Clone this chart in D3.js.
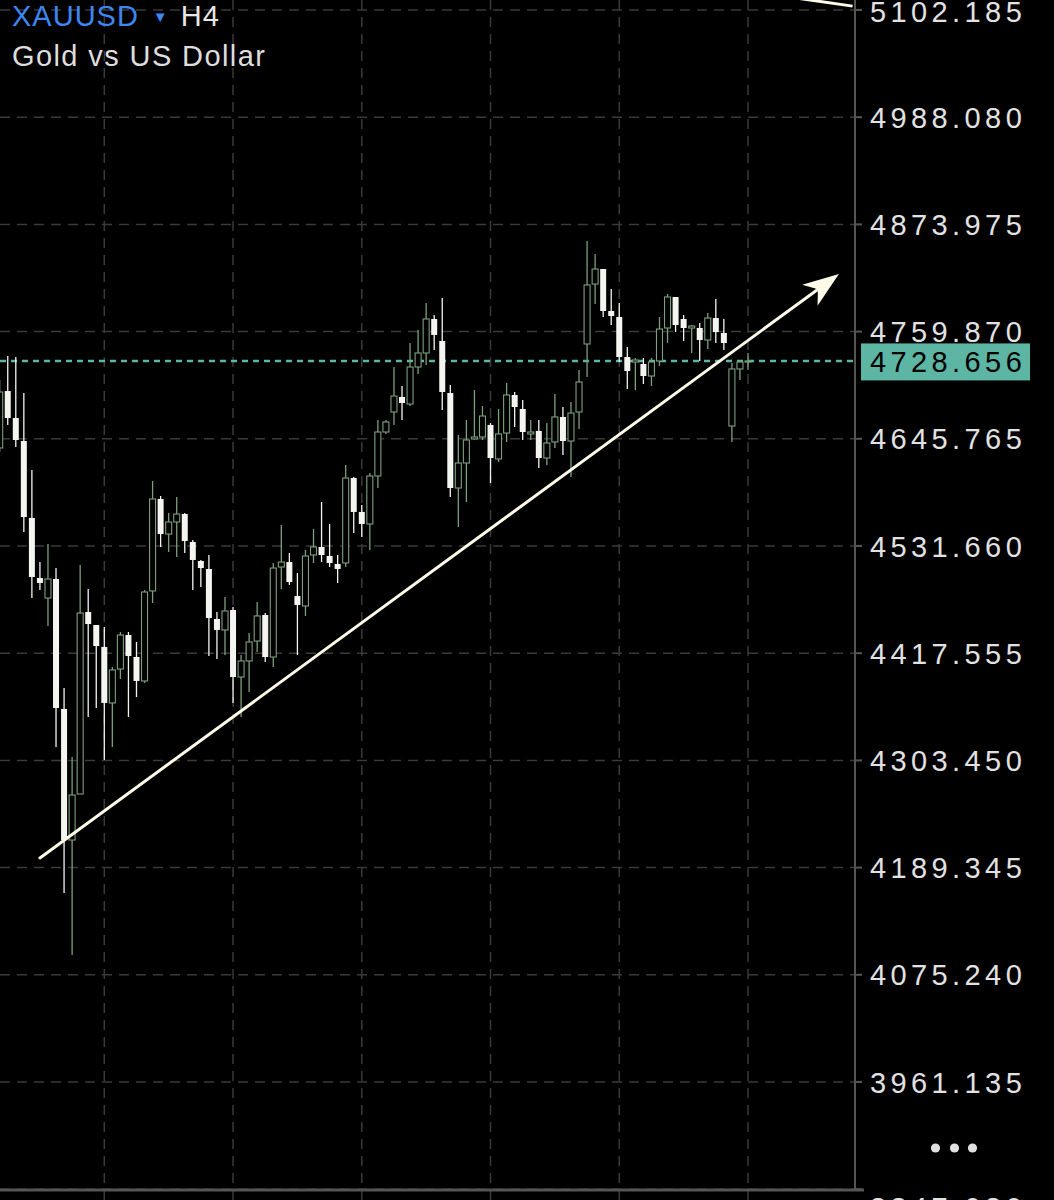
<!DOCTYPE html>
<html lang="en">
<head>
<meta charset="utf-8">
<title>XAUUSD H4</title>
<script src="https://cdn.jsdelivr.net/npm/d3@7"></script>
<style>
  html, body { margin: 0; padding: 0; background: #000; }
  svg { display: block; }
</style>
</head>
<body>
<div id="chart"></div>
<script>

// H4 candles, oldest first (prices)
const opens = [4636.0, 4696.6, 4667.9, 4643.4, 4561.5, 4497.6, 4476.3, 4496.5, 4358.2, 4218.7,
  4267.7, 4461.4, 4447.6, 4424.2, 4364.6, 4400.7, 4436.9, 4413.5, 4388.0, 4483.8,
  4581.7, 4544.4, 4557.2, 4565.7, 4535.9, 4515.7, 4507.2, 4454.0, 4442.3, 4463.5,
  4392.2, 4409.3, 4430.5, 4458.2, 4413.5, 4509.3, 4514.6, 4478.4, 4467.8, 4522.1,
  4530.6, 4521.0, 4512.5, 4513.6, 4604.0, 4567.9, 4555.1, 4606.2, 4653.0, 4674.3,
  4690.3, 4682.8, 4722.2, 4737.1, 4773.3, 4749.9, 4694.5, 4593.4, 4620.0, 4645.6,
  4647.7, 4660.5, 4624.3, 4651.9, 4692.4, 4677.5, 4650.9, 4654.1, 4625.3, 4642.4,
  4669.0, 4643.4, 4674.3, 4746.7, 4810.5, 4826.5, 4781.8, 4775.4, 4732.8, 4727.5,
  4725.4, 4712.6, 4728.6, 4763.7, 4796.7, 4773.3, 4763.7, 4763.7, 4750.9, 4774.3,
  4758.4, 4659.4, 4720.1, 4727.5];

const highs = [4708.4, 4733.9, 4732.8, 4694.5, 4612.6, 4514.6, 4533.8, 4508.2, 4380.5, 4307.1,
  4511.4, 4485.9, 4447.6, 4445.4, 4402.9, 4440.1, 4440.1, 4429.5, 4484.8, 4600.9,
  4584.9, 4566.8, 4583.8, 4566.8, 4538.1, 4516.8, 4522.1, 4461.4, 4477.4, 4466.7,
  4415.6, 4439.1, 4472.1, 4460.3, 4513.6, 4554.0, 4524.2, 4502.9, 4527.4, 4549.8,
  4578.5, 4555.1, 4522.1, 4617.9, 4605.1, 4575.3, 4609.4, 4665.8, 4665.8, 4722.2,
  4702.0, 4747.7, 4761.6, 4790.3, 4777.5, 4795.6, 4703.0, 4649.8, 4665.8, 4697.7,
  4680.7, 4662.6, 4677.5, 4705.2, 4695.6, 4687.1, 4665.8, 4665.8, 4662.6, 4693.5,
  4679.6, 4684.9, 4719.0, 4856.3, 4842.5, 4826.5, 4805.2, 4790.3, 4743.5, 4731.8,
  4731.8, 4731.8, 4775.4, 4799.9, 4796.7, 4777.5, 4766.9, 4769.0, 4779.7, 4794.6,
  4773.3, 4726.5, 4729.6, 4737.1];

const lows = [4631.7, 4660.5, 4637.0, 4546.6, 4476.3, 4484.8, 4446.5, 4317.7, 4162.3, 4096.3,
  4267.7, 4349.7, 4359.2, 4303.9, 4317.7, 4390.1, 4349.7, 4370.9, 4385.8, 4471.0,
  4530.6, 4525.3, 4520.0, 4524.2, 4484.8, 4488.0, 4414.6, 4411.4, 4415.6, 4364.6,
  4349.7, 4376.3, 4418.8, 4408.2, 4402.9, 4485.9, 4490.2, 4415.6, 4457.2, 4513.6,
  4514.6, 4509.3, 4492.3, 4509.3, 4545.5, 4541.2, 4527.4, 4593.4, 4650.9, 4660.5,
  4665.8, 4680.7, 4714.7, 4724.3, 4740.3, 4676.4, 4583.8, 4551.9, 4578.5, 4644.5,
  4644.5, 4598.7, 4621.1, 4642.4, 4658.3, 4644.5, 4644.5, 4614.7, 4617.9, 4636.0,
  4628.5, 4605.1, 4656.2, 4711.5, 4789.3, 4775.4, 4766.9, 4727.5, 4698.8, 4697.7,
  4704.1, 4702.0, 4723.3, 4747.7, 4759.4, 4749.9, 4737.1, 4728.6, 4741.4, 4747.7,
  4740.3, 4642.4, 4708.4, 4719.0];

const closes = [4695.6, 4667.9, 4644.5, 4562.5, 4498.7, 4492.3, 4496.5, 4359.2, 4218.7, 4266.6,
  4460.3, 4448.6, 4425.2, 4364.6, 4399.7, 4436.9, 4414.6, 4388.0, 4482.7, 4581.7,
  4544.4, 4557.2, 4565.7, 4537.0, 4516.8, 4508.2, 4455.0, 4442.3, 4462.5, 4392.2,
  4409.3, 4429.5, 4457.2, 4413.5, 4508.2, 4514.6, 4493.3, 4468.9, 4521.0, 4530.6,
  4522.1, 4513.6, 4507.2, 4604.0, 4567.9, 4555.1, 4606.2, 4653.0, 4663.7, 4691.3,
  4683.9, 4722.2, 4737.1, 4773.3, 4756.3, 4695.6, 4593.4, 4620.0, 4644.5, 4647.7,
  4670.0, 4625.3, 4650.9, 4692.4, 4679.6, 4653.0, 4653.0, 4625.3, 4641.3, 4669.0,
  4643.4, 4673.2, 4706.2, 4809.5, 4826.5, 4781.8, 4776.5, 4732.8, 4717.9, 4729.6,
  4712.6, 4727.5, 4762.6, 4796.7, 4766.9, 4763.7, 4765.8, 4750.9, 4774.3, 4759.4,
  4747.7, 4720.1, 4727.5, 4728.656];

// price axis ticks
const priceTicks = [5102.185, 4988.080, 4873.975, 4759.870, 4645.765, 4531.660,
  4417.555, 4303.450, 4189.345, 4075.240, 3961.135, 3847.030];

// candle index of each vertical (period) separator
const gridIdx = [13, 29, 45, 61, 77, 93];

const lastPrice = 4728.656;

// trend line drawn by the user (candle index, price)
const trendIdx = [5.0, 104.3];
const trendPrice = [4199.6, 4821.2];
// second line leaving the top of the view
const line2Idx = [99.0, 106.0];
const line2Price = [5114.9, 5106.3];

const W = 1054, H = 1200;
const plotRight = 855, plotBottom = 1190;

const x = d3.scaleLinear().domain([0, 93]).range([-0.3, 748]);
const y = d3.scaleLinear().domain([3847.03, 5102.185]).range([1189.2, 10]);

const bullColor = "#7d9f7d";
const bearColor = "#f4f4f0";
const gridColor = "#3a3a3a";
const teal = "#5db5a3";
const font = "'Liberation Sans', Arial, sans-serif";

const svg = d3.select("#chart").append("svg")
  .attr("width", W)
  .attr("height", H)
  .style("background", "#000");

svg.append("defs").append("clipPath").attr("id", "plot")
  .append("rect").attr("x", 0).attr("y", 0).attr("width", plotRight).attr("height", plotBottom);

// horizontal grid
svg.append("g").selectAll("line")
  .data(priceTicks)
  .enter().append("line")
  .attr("x1", 0).attr("x2", plotRight)
  .attr("y1", d => y(d)).attr("y2", d => y(d))
  .attr("stroke", gridColor)
  .attr("stroke-width", 1.5)
  .attr("stroke-dasharray", "10,7");

// vertical grid
svg.append("g").selectAll("line")
  .data(gridIdx)
  .enter().append("line")
  .attr("x1", d => x(d)).attr("x2", d => x(d))
  .attr("y1", 0).attr("y2", H)
  .attr("stroke", gridColor)
  .attr("stroke-width", 1.5)
  .attr("stroke-dasharray", "10,7");

// current price line
svg.append("line")
  .attr("x1", 0).attr("x2", plotRight)
  .attr("y1", y(lastPrice)).attr("y2", y(lastPrice))
  .attr("stroke", teal)
  .attr("stroke-width", 2.6)
  .attr("stroke-dasharray", "6,5");

// candles
const candles = d3.range(opens.length).map(i => ({
  i, o: opens[i], h: highs[i], l: lows[i], c: closes[i]
}));

const plot = svg.append("g").attr("clip-path", "url(#plot)");
const cg = plot.selectAll("g.candle")
  .data(candles)
  .enter().append("g")
  .attr("class", "candle");

cg.append("line")
  .attr("x1", d => x(d.i)).attr("x2", d => x(d.i))
  .attr("y1", d => y(d.h)).attr("y2", d => y(d.l))
  .attr("stroke", d => d.c >= d.o ? bullColor : bearColor)
  .attr("stroke-width", 1.3);

const bodyW = 6;
cg.append("rect")
  .attr("x", d => x(d.i) - bodyW / 2)
  .attr("y", d => y(Math.max(d.o, d.c)))
  .attr("width", bodyW)
  .attr("height", d => Math.max(1, Math.abs(y(d.o) - y(d.c))))
  .attr("fill", d => d.c >= d.o ? "#000" : bearColor)
  .attr("stroke", d => d.c >= d.o ? bullColor : "none")
  .attr("stroke-width", 1.1);

// trend line with arrow head
const p0 = [x(trendIdx[0]), y(trendPrice[0])];
const p1 = [x(trendIdx[1]), y(trendPrice[1])];
const len = Math.hypot(p1[0] - p0[0], p1[1] - p0[1]);
const u = [(p1[0] - p0[0]) / len, (p1[1] - p0[1]) / len];
const n = [-u[1], u[0]];
const headL = 36, headW = 13, notch = 10;

plot.append("line")
  .attr("x1", p0[0]).attr("y1", p0[1])
  .attr("x2", p1[0] - u[0] * 22).attr("y2", p1[1] - u[1] * 22)
  .attr("stroke", "#fffbe8")
  .attr("stroke-width", 3)
  .attr("stroke-linecap", "round");

const head = [
  p1,
  [p1[0] - u[0] * headL + n[0] * headW, p1[1] - u[1] * headL + n[1] * headW],
  [p1[0] - u[0] * (headL - notch), p1[1] - u[1] * (headL - notch)],
  [p1[0] - u[0] * headL - n[0] * headW, p1[1] - u[1] * headL - n[1] * headW]
];
svg.append("path")
  .attr("d", d3.line()(head) + "Z")
  .attr("fill", "#fffbe8");

plot.append("line")
  .attr("x1", x(line2Idx[0])).attr("y1", y(line2Price[0]))
  .attr("x2", x(line2Idx[1])).attr("y2", y(line2Price[1]))
  .attr("stroke", "#fffbe8")
  .attr("stroke-width", 3);

// axes frame
svg.append("line")
  .attr("x1", plotRight).attr("x2", plotRight)
  .attr("y1", 0).attr("y2", plotBottom)
  .attr("stroke", "#555").attr("stroke-width", 2);
svg.append("line")
  .attr("x1", 0).attr("x2", 864)
  .attr("y1", plotBottom).attr("y2", plotBottom)
  .attr("stroke", "#555").attr("stroke-width", 3);

// price labels
const fmt = d3.format(".3f");
const axis = svg.append("g");
axis.selectAll("line")
  .data(priceTicks)
  .enter().append("line")
  .attr("x1", plotRight).attr("x2", plotRight + 7)
  .attr("y1", d => y(d)).attr("y2", d => y(d))
  .attr("stroke", "#555").attr("stroke-width", 2);

const lastTick = priceTicks.length - 1;
axis.selectAll("text")
  .data(priceTicks)
  .enter().append("text")
  .attr("x", 870)
  .attr("y", (d, i) => {
    const base = y(d) + 10.6;
    if (i === 0) return Math.max(base, 21.5);   // keep the top label inside
    if (i === lastTick) return base + 18;       // sits under the time axis, mostly hidden
    return base;
  })
  .attr("fill", "#e2e2e2")
  .attr("font-family", font)
  .attr("font-size", 29)
  .attr("letter-spacing", 4.4)
  .text(d => fmt(d));

// last price tag
svg.append("rect")
  .attr("x", 861).attr("y", y(lastPrice) - 17.5)
  .attr("width", 169).attr("height", 37)
  .attr("fill", teal);
svg.append("text")
  .attr("x", 870).attr("y", y(lastPrice) + 10.9)
  .attr("fill", "#000")
  .attr("font-family", font)
  .attr("font-size", 29)
  .attr("letter-spacing", 4.4)
  .text(fmt(lastPrice));

// title
const title = svg.append("text")
  .attr("x", 12).attr("y", 26)
  .attr("font-family", font)
  .attr("font-size", 29)
  .attr("letter-spacing", 1);
title.append("tspan").attr("fill", "#3d87f2").text("XAUUSD");
title.append("tspan").attr("fill", "#3d87f2").attr("font-size", 15).attr("dx", 14).attr("dy", -4).text("▼");
title.append("tspan").attr("fill", "#e6e6e6").attr("dx", 12).attr("dy", 4).text("H4");

svg.append("text")
  .attr("x", 12).attr("y", 66)
  .attr("fill", "#dedede")
  .attr("font-family", font)
  .attr("font-size", 29)
  .attr("letter-spacing", 1.4)
  .text("Gold vs US Dollar");

// more menu
svg.append("g").selectAll("circle")
  .data([935.5, 954.5, 972.5])
  .enter().append("circle")
  .attr("cx", d => d).attr("cy", 1148).attr("r", 4.6)
  .attr("fill", "#e0e0e0");

</script>
</body>
</html>
